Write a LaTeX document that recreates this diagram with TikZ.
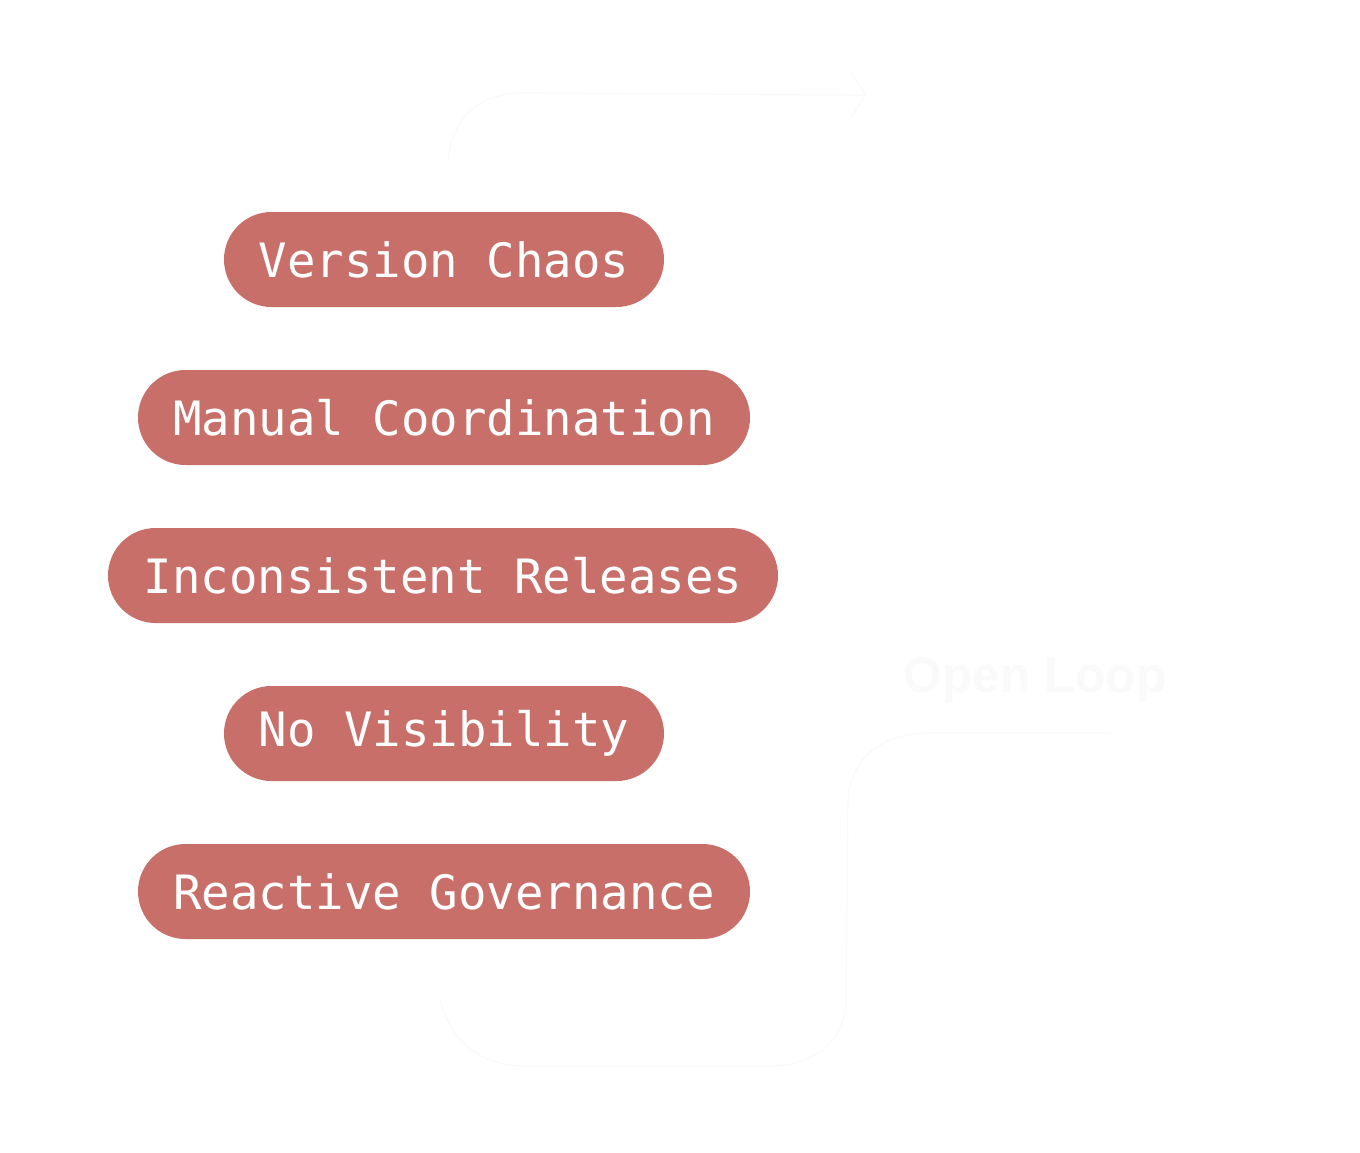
\documentclass[tikz,border=0pt]{standalone}
\usepackage{fontspec}
\setmonofont{DejaVu Sans Mono}
\newfontfamily\labelsans{Liberation Sans}
\usetikzlibrary{shapes.misc,arrows.meta}
\definecolor{pillred}{RGB}{200,111,106}
\definecolor{ghost}{RGB}{250,250,250}
\tikzset{
  pill/.style={rounded rectangle, fill=pillred, draw=none, text=white,
    minimum height=95bp, inner xsep=0pt, inner ysep=0pt,
    font=\ttfamily\fontsize{47.5}{50}\selectfont},
  ghostline/.style={draw=ghost, line width=1.2bp},
}
\begin{document}
\begin{tikzpicture}[x=1bp,y=-1bp]
\useasboundingbox[fill=white] (0,0) rectangle (1360,1152);
% faint loop
\coordinate (ls) at (448,160);
\coordinate (le) at (866,95);
\draw[ghostline, -{Straight Barb[length=14bp,width=44bp]}] (ls) .. controls (453,115) and (480,93) .. (525,93) -- (le);
\coordinate (bs) at (440,1000);
\coordinate (be) at (1110,733);
\draw[ghostline] (bs) .. controls (450,1040) and (480,1066) .. (525,1066) -- (770,1066) .. controls (815,1066) and (846,1040) .. (846,1000) -- (848,800) .. controls (850,760) and (880,733) .. (930,733) -- (be);
\node[font=\labelsans\bfseries\fontsize{50}{52}\selectfont, text=ghost] (open) at (1035,680) {Open Loop};
% pills
\node[pill, minimum width=440bp] (p1) at (444,259.5) {Version Chaos};
\node[pill, minimum width=612bp] (p2) at (444,417.5) {Manual Coordination};
\node[pill, minimum width=670bp] (p3) at (443,575.5) {Inconsistent Releases};
\node[pill, minimum width=440bp] (p4) at (444,733.5) {No Visibility};
\node[pill, minimum width=612bp] (p5) at (444,891.5) {Reactive Governance};
\end{tikzpicture}
\end{document}
